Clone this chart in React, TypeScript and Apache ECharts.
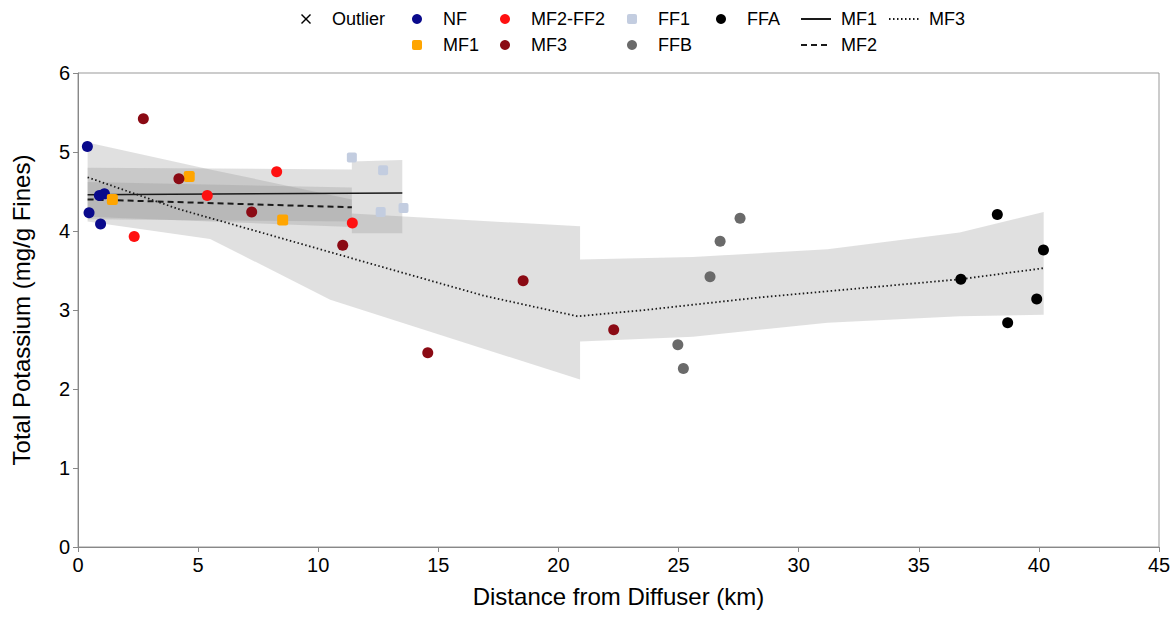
import React, { useEffect, useRef } from "react";
import * as echarts from "echarts";

// Sample groups: [distance from diffuser (km), total potassium (mg/g fines)]
const nfPoints = [[0.39, 5.07], [0.46, 4.23], [0.94, 4.09], [0.89, 4.45], [1.1, 4.47]];
const mf1Points = [[1.43, 4.4], [4.63, 4.69], [8.52, 4.14]];
const mf2ff2Points = [[2.34, 3.93], [5.38, 4.45], [8.27, 4.75], [11.42, 4.1]];
const mf3Points = [[2.72, 5.42], [4.2, 4.66], [7.23, 4.24], [11.02, 3.82], [14.56, 2.46], [18.53, 3.37], [22.3, 2.75]];
const ff1Points = [[11.4, 4.93], [12.7, 4.77], [13.55, 4.29], [12.6, 4.24]];
const ffbPoints = [[24.97, 2.56], [25.2, 2.26], [26.31, 3.42], [26.73, 3.87], [27.56, 4.16]];
const ffaPoints = [[36.75, 3.39], [38.27, 4.21], [38.7, 2.84], [39.91, 3.14], [40.19, 3.76]];

// Fitted trends
const mf1Fit = [[0.4, 4.46], [13.5, 4.48]];
const mf2Fit = [[0.4, 4.4], [11.4, 4.3]];
const mf3Fit = [[0.4, 4.68], [4.16, 4.28], [8.33, 3.92], [12.49, 3.56], [16.9, 3.18], [20.8, 2.92], [23.6, 3.0], [28.4, 3.16], [34.2, 3.32], [36.75, 3.39], [40.2, 3.53]];

// Confidence bands (upper and lower edges, left to right)
const mf3BandUpper = [[0.4, 5.12], [5.5, 4.78], [11.4, 4.4], [11.4, 4.22], [20.9, 4.06], [20.9, 3.64], [25.6, 3.67], [31.2, 3.77], [36.7, 3.98], [40.2, 4.24]];
const mf3BandLower = [[0.4, 4.12], [5.5, 3.9], [10.5, 3.13], [20.9, 2.12], [20.9, 2.6], [25.6, 2.66], [31.2, 2.84], [36.7, 2.92], [40.2, 2.94]];
const mf1BandUpper = [[0.4, 4.8], [11.4, 4.78], [11.4, 4.88], [13.5, 4.9]];
const mf1BandLower = [[0.4, 4.15], [11.4, 4.12], [11.4, 3.97], [13.5, 3.97]];
const mf2BandUpper = [[0.4, 4.62], [11.4, 4.55]];
const mf2BandLower = [[0.4, 4.18], [11.4, 4.05]];

const FONT = "'Liberation Sans', Arial, sans-serif";
const BAND_FILL = "rgba(140,140,140,0.27)";
const CROSS = "path://M1,0L5,4L9,0L10,1L6,5L10,9L9,10L5,6L1,10L0,9L4,5L0,1Z";
const SQUARE = "path://M2,0H8Q10,0 10,2V8Q10,10 8,10H2Q0,10 0,8V2Q0,0 2,0Z";

function bandSeries(name: string, upper: number[][], lower: number[][]) {
  const ring = upper.concat(lower.slice().reverse());
  return {
    type: "custom",
    name,
    silent: true,
    z: 1,
    data: ring,
    encode: { x: 0, y: 1 },
    renderItem: (params: any, api: any) => {
      if (params.dataIndex !== 0) return null;
      return {
        type: "polygon",
        shape: { points: ring.map((p) => api.coord(p)) },
        style: { fill: BAND_FILL, stroke: "none" },
      };
    },
  };
}

function scatter(name: string, data: number[][], color: string, symbol = "circle", size = 11) {
  return {
    type: "scatter",
    name,
    data,
    symbol,
    symbolSize: size,
    z: 5,
    itemStyle: { color, opacity: 1 },
  };
}

function fitLine(name: string, data: number[][], type: any, width: number) {
  return {
    type: "line",
    name,
    data,
    symbol: "none",
    z: 3,
    itemStyle: { color: "transparent", borderWidth: 0 },
    lineStyle: { color: "#1a1a1a", width, type },
  };
}

// Marker legends use a 10px icon box; line legends a 30px one
const markerLegend = {
  orient: "vertical",
  top: 5,
  itemWidth: 10,
  itemHeight: 10,
  itemGap: 8,
  selectedMode: false,
  textStyle: { fontSize: 18, color: "#000", fontFamily: FONT, padding: [0, 0, 0, 16] },
};
const lineLegend = {
  ...markerLegend,
  itemWidth: 30,
  formatter: (name: string) => name.replace(" fit", ""),
  textStyle: { ...markerLegend.textStyle, padding: [0, 0, 0, 5] },
};

export default function App() {
  const ref = useRef<HTMLDivElement>(null);

  useEffect(() => {
    if (!ref.current) return;
    const chart = echarts.init(ref.current, null, { renderer: "svg" });
    chart.setOption({
      animation: false,
      backgroundColor: "#fff",
      textStyle: { fontFamily: FONT },
      grid: { left: 78, right: 17, top: 73, bottom: 71, show: true, borderColor: "#999", borderWidth: 1 },
      legend: [
        { ...markerLegend, left: 296, data: [{ name: "Outlier", icon: CROSS }] },
        { ...markerLegend, left: 407, data: [{ name: "NF", icon: "circle" }, { name: "MF1", icon: SQUARE }] },
        { ...markerLegend, left: 495, data: [{ name: "MF2-FF2", icon: "circle" }, { name: "MF3", icon: "circle" }] },
        { ...markerLegend, left: 622, data: [{ name: "FF1", icon: SQUARE }, { name: "FFB", icon: "circle" }] },
        { ...markerLegend, left: 711, data: [{ name: "FFA", icon: "circle" }] },
        { ...lineLegend, left: 795, data: ["MF1 fit", "MF2 fit"] },
        { ...lineLegend, left: 883, data: ["MF3 fit"] },
      ],
      xAxis: {
        type: "value",
        min: 0,
        max: 45,
        interval: 5,
        name: "Distance from Diffuser (km)",
        nameLocation: "middle",
        nameGap: 37,
        nameTextStyle: { fontSize: 24, color: "#000", fontFamily: FONT },
        axisLine: { show: true, lineStyle: { color: "#888" } },
        axisTick: { show: true, length: 5, lineStyle: { color: "#888" } },
        axisLabel: { fontSize: 20, color: "#000", margin: 8, fontFamily: FONT },
        splitLine: { show: false },
      },
      yAxis: {
        type: "value",
        min: 0,
        max: 6,
        interval: 1,
        name: "Total Potassium (mg/g Fines)",
        nameLocation: "middle",
        nameGap: 45,
        nameTextStyle: { fontSize: 24, color: "#000", fontFamily: FONT },
        axisLine: { show: true, lineStyle: { color: "#888" } },
        axisTick: { show: true, length: 5, lineStyle: { color: "#888" } },
        axisLabel: { fontSize: 20, color: "#000", margin: 8, fontFamily: FONT },
        splitLine: { show: false },
      },
      series: [
        bandSeries("MF3 band", mf3BandUpper, mf3BandLower),
        bandSeries("MF1 band", mf1BandUpper, mf1BandLower),
        bandSeries("MF2 band", mf2BandUpper, mf2BandLower),
        fitLine("MF1 fit", mf1Fit, "solid", 1.5),
        fitLine("MF2 fit", mf2Fit, [6, 4], 2),
        fitLine("MF3 fit", mf3Fit, [1.5, 2.5], 1.8),
        scatter("Outlier", [], "#000", CROSS, 10),
        scatter("NF", nfPoints, "#0a0a8c"),
        scatter("MF1", mf1Points, "#ffa500", SQUARE, 11),
        scatter("MF2-FF2", mf2ff2Points, "#ff1010"),
        scatter("MF3", mf3Points, "#8b0a14"),
        scatter("FF1", ff1Points, "#c3cde0", SQUARE, 10),
        scatter("FFB", ffbPoints, "#6a6a6a"),
        scatter("FFA", ffaPoints, "#000"),
      ],
    });
    return () => chart.dispose();
  }, []);

  return <div ref={ref} style={{ position: "fixed", left: 0, top: 0, width: 1176, height: 618 }} />;
}
